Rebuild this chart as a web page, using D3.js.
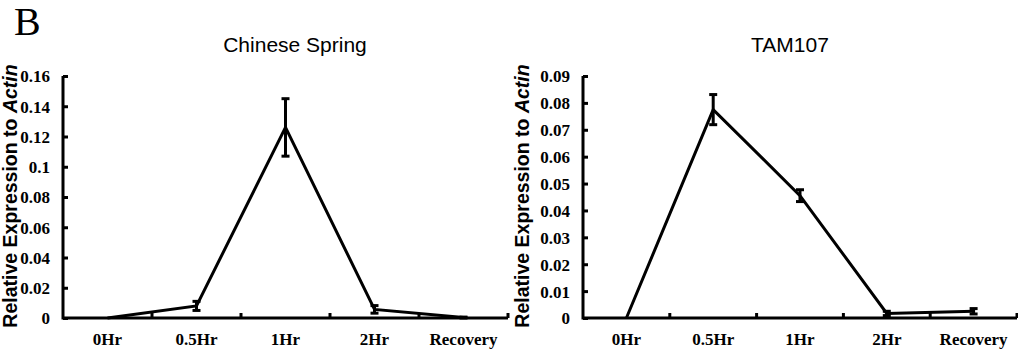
<!DOCTYPE html>
<html>
<head>
<meta charset="utf-8">
<script src="https://cdnjs.cloudflare.com/ajax/libs/d3/7.8.5/d3.min.js"></script>
<style>
  body { margin: 0; background: #fff; }
  svg { display: block; }
  .tick-label { font-family: "Liberation Serif", "Times New Roman", serif; font-weight: bold; font-size: 17px; fill: #000; }
  .title { font-family: "Liberation Sans", Arial, sans-serif; font-size: 21px; fill: #000; }
  .axis-label { font-family: "Liberation Sans", Arial, sans-serif; font-weight: bold; font-size: 19.5px; fill: #000; }
</style>
</head>
<body>
<div class="chart-container"></div>
<script>
const categories = ["0Hr", "0.5Hr", "1Hr", "2Hr", "Recovery"];

const springValues = [0, 0.008, 0.126, 0.0057, 0.0003];
const springErrors = [0, 0.003, 0.019, 0.0025, 0.0003];
const springTicks = [0, 0.02, 0.04, 0.06, 0.08, 0.1, 0.12, 0.14, 0.16];

const tamValues = [0, 0.0775, 0.0455, 0.0017, 0.0025];
const tamErrors = [0, 0.0056, 0.0022, 0.0008, 0.001];
const tamTicks = [0, 0.01, 0.02, 0.03, 0.04, 0.05, 0.06, 0.07, 0.08, 0.09];

const svg = d3.select(".chart-container").append("svg")
    .attr("width", 1018)
    .attr("height", 350);

svg.append("text")
    .attr("x", 14)
    .attr("y", 35)
    .style("font-family", "'Liberation Serif', 'Times New Roman', serif")
    .style("font-size", "40px")
    .text("B");

function drawPanel(opts) {
  const x = d3.scaleBand().domain(categories).range([opts.left, opts.right]);
  const y = d3.scaleLinear().domain([0, opts.max]).range([318, 76]);

  const g = svg.append("g");

  // title
  g.append("text")
      .attr("class", "title")
      .attr("x", opts.titleX)
      .attr("y", 52)
      .style("text-anchor", "middle")
      .text(opts.title);

  // y axis label
  const lab = g.append("text")
      .attr("class", "axis-label")
      .attr("transform", "translate(" + opts.labelX + "," + 196 + ") rotate(-90)")
      .style("text-anchor", "middle");
  lab.append("tspan").text("Relative Expression to ");
  lab.append("tspan").style("font-style", "italic").text("Actin");

  // y axis
  const yAxis = g.append("g")
      .attr("transform", "translate(" + opts.left + ",0)")
      .call(d3.axisLeft(y).tickValues(opts.ticks).tickSize(-5).tickPadding(13)
        .tickFormat((d) => d3.format("")(+d.toFixed(2))));
  yAxis.select(".domain").remove();
  yAxis.selectAll("line").attr("stroke", "#000").attr("stroke-width", 3);
  yAxis.selectAll("text").attr("class", "tick-label").attr("dy", "0.35em");

  // x tick marks at category boundaries
  const bounds = categories.map((c) => x(c)).concat([x.range()[1]]).slice(1);
  g.selectAll(".xtick")
      .data(bounds)
    .enter().append("line")
      .attr("x1", (d) => d)
      .attr("x2", (d) => d)
      .attr("y1", 318)
      .attr("y2", 313)
      .attr("stroke", "#000")
      .attr("stroke-width", 3);

  // axis lines
  g.append("path")
      .attr("d", "M" + opts.left + "," + y(opts.max) + "V" + y(0) + "H" + opts.right)
      .attr("fill", "none")
      .attr("stroke", "#000")
      .attr("stroke-width", 3);

  // x labels
  g.selectAll(".xlab")
      .data(categories)
    .enter().append("text")
      .attr("class", "tick-label")
      .attr("x", (d) => x(d) + x.bandwidth() / 2)
      .attr("y", 345)
      .style("text-anchor", "middle")
      .text((d) => d);

  const pts = categories.map((c, i) => ({c: c, v: opts.values[i], e: opts.errors[i]}));
  const cx = (d) => x(d.c) + x.bandwidth() / 2;

  // error bars
  const eb = g.selectAll(".err")
      .data(pts.filter((d) => d.e > 0))
    .enter().append("g")
      .attr("stroke", "#000")
      .attr("stroke-width", 3);
  eb.append("line")
      .attr("x1", cx).attr("x2", cx)
      .attr("y1", (d) => y(d.v + d.e))
      .attr("y2", (d) => y(d.v - d.e));
  eb.append("line")
      .attr("x1", (d) => cx(d) - 4).attr("x2", (d) => cx(d) + 4)
      .attr("y1", (d) => y(d.v + d.e)).attr("y2", (d) => y(d.v + d.e));
  eb.append("line")
      .attr("x1", (d) => cx(d) - 4).attr("x2", (d) => cx(d) + 4)
      .attr("y1", (d) => y(d.v - d.e)).attr("y2", (d) => y(d.v - d.e));

  // series line
  const line = d3.line().x(cx).y((d) => y(d.v));
  g.append("path")
      .datum(pts)
      .attr("d", line)
      .attr("fill", "none")
      .attr("stroke", "#000")
      .attr("stroke-width", 3)
      .attr("stroke-linejoin", "miter");
}

drawPanel({
  left: 63, right: 508, max: 0.16, ticks: springTicks,
  values: springValues, errors: springErrors,
  title: "Chinese Spring", titleX: 295, labelX: 17
});

drawPanel({
  left: 583, right: 1017, max: 0.09, ticks: tamTicks,
  values: tamValues, errors: tamErrors,
  title: "TAM107", titleX: 790, labelX: 529
});
</script>
</body>
</html>
